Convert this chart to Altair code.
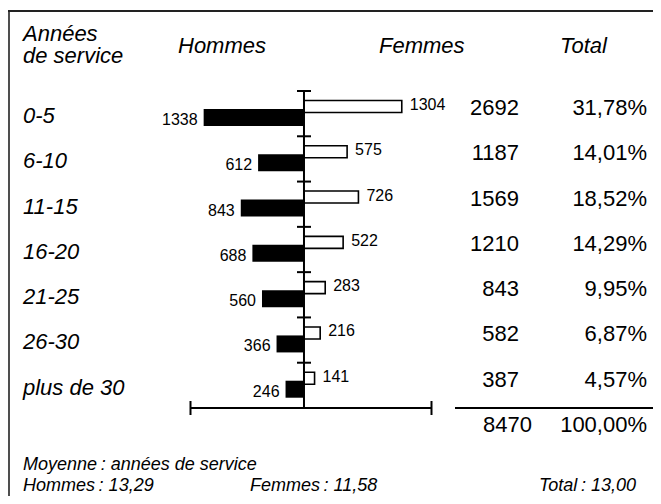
import altair as alt
import pandas as pd

# ---- data ----
categories = ["0-5", "6-10", "11-15", "16-20", "21-25", "26-30", "plus de 30"]
hommes = [1338, 612, 843, 688, 560, 366, 246]
femmes = [1304, 575, 726, 522, 283, 216, 141]
totals = [2692, 1187, 1569, 1210, 843, 582, 387]
percents = ["31,78%", "14,01%", "18,52%", "14,29%", "9,95%", "6,87%", "4,57%"]
grand_total = ["8470"]
grand_percent = ["100,00%"]
header_lines = ["Années", "de service"]
col_headers = ["Hommes", "Femmes", "Total"]
mean_title = "Moyenne\u202f: années de service"
mean_labels = ["Hommes\u202f: 13,29", "Femmes\u202f: 11,58", "Total\u202f: 13,00"]

df = pd.DataFrame({"cat": categories, "hommes": hommes, "femmes": femmes,
                   "total": totals, "pct": percents})
one = pd.DataFrame({"k": [0]})

W, H = 645, 488
FONT = "Liberation Sans"
TOP, BOT = 83, 400
BAND = (BOT - TOP) / len(categories)

xs = alt.Scale(domain=[-1520, 1707], range=[182, 424], nice=False, zero=False)
ys = alt.Scale(domain=categories, range=[TOP, BOT], paddingInner=0, paddingOuter=0)
Y = alt.Y("cat:N", scale=ys, axis=None)

base = alt.Chart(df).transform_calculate(hneg="-datum.hommes")

hbar = base.mark_bar(color="black", size=17, yOffset=26.5 - BAND / 2).encode(
    x=alt.X("hneg:Q", scale=xs, axis=None), x2=alt.datum(0), y=Y)
fbar = base.mark_bar(fill="white", stroke="black", strokeWidth=1.6, size=12,
                     yOffset=15.5 - BAND / 2).encode(
    x=alt.X("femmes:Q", scale=xs, axis=None), x2=alt.datum(0), y=Y)

hlab = base.mark_text(font=FONT, fontSize=16, align="right", baseline="alphabetic",
                      dx=-6, dy=34 - BAND / 2, color="black").encode(
    x=alt.X("hneg:Q", scale=xs, axis=None), y=Y, text=alt.Text("hommes:Q", format="d"))
flab = base.mark_text(font=FONT, fontSize=16, align="left", baseline="alphabetic",
                      dx=8, dy=19 - BAND / 2, color="black").encode(
    x=alt.X("femmes:Q", scale=xs, axis=None), y=Y, text=alt.Text("femmes:Q", format="d"))

tot = base.mark_text(font=FONT, fontSize=22, align="right", baseline="alphabetic",
                     dy=24 - BAND / 2, color="black").encode(
    x=alt.value(511), y=Y, text=alt.Text("total:Q", format="d"))
pct = base.mark_text(font=FONT, fontSize=22, align="right", baseline="alphabetic",
                     dy=24 - BAND / 2, color="black").encode(
    x=alt.value(639), y=Y, text="pct:N")
rowlab = base.mark_text(font=FONT, fontSize=22, fontStyle="italic", align="left",
                        baseline="alphabetic", dy=32 - BAND / 2, color="black").encode(
    x=alt.value(15), y=Y, text="cat:N")

# axis ticks at band starts
ticks = base.mark_rule(color="black", strokeWidth=2).encode(
    y=alt.Y("cat:N", scale=ys, axis=None, bandPosition=0),
    x=alt.value(289), x2=alt.value(303))

oc = alt.Chart(one)
vaxis = oc.mark_rule(color="black", strokeWidth=2).encode(
    x=alt.X("zero:Q", scale=xs, axis=None), y=alt.value(TOP), y2=alt.value(BOT)
).transform_calculate(zero="0")
haxis = oc.mark_rule(color="black", strokeWidth=2).encode(
    x=alt.value(182), x2=alt.value(424), y=alt.value(BOT))
lend = oc.mark_rule(color="black", strokeWidth=2).encode(
    x=alt.value(182.5), y=alt.value(BOT - 7), y2=alt.value(BOT + 7))
rend = oc.mark_rule(color="black", strokeWidth=2).encode(
    x=alt.value(423.5), y=alt.value(BOT - 7), y2=alt.value(BOT + 7))
sumline = oc.mark_rule(color="black", strokeWidth=2).encode(
    x=alt.value(447), x2=alt.value(645), y=alt.value(BOT))

frame_top = oc.mark_rule(color="#222222", strokeWidth=2).encode(
    x=alt.value(0), x2=alt.value(W), y=alt.value(3))
frame_left = oc.mark_rule(color="#222222", strokeWidth=1.6).encode(
    x=alt.value(1), y=alt.value(2), y2=alt.value(H))


def txt(s, x, y, size=22, italic=True, align="left"):
    kw = dict(font=FONT, fontSize=size, align=align, baseline="alphabetic", color="black")
    if italic:
        kw["fontStyle"] = "italic"
    return oc.mark_text(**kw).encode(x=alt.value(x), y=alt.value(y), text=alt.value(s))


texts = [
    txt(header_lines[0], 15, 33),
    txt(header_lines[1], 15, 55),
    txt(col_headers[0], 170, 45),
    txt(col_headers[1], 371, 45),
    txt(col_headers[2], 552, 45),
    txt(grand_total[0], 524, 424, italic=False, align="right"),
    txt(grand_percent[0], 639, 424, italic=False, align="right"),
    txt(mean_title, 15, 462, size=18),
    txt(mean_labels[0], 15, 483, size=18),
    txt(mean_labels[1], 242, 483, size=18),
    txt(mean_labels[2], 531, 483, size=18),
]

chart = alt.layer(
    hbar, fbar, ticks, vaxis, haxis, lend, rend, sumline,
    hlab, flab, tot, pct, rowlab, *texts, frame_left, frame_top
).properties(
    width=W, height=H, padding=0, autosize=alt.AutoSizeParams(type="none"),
    background="white"
).configure_view(stroke=None)

chart.save("out.html", embed_options={"renderer": "svg", "actions": False})
